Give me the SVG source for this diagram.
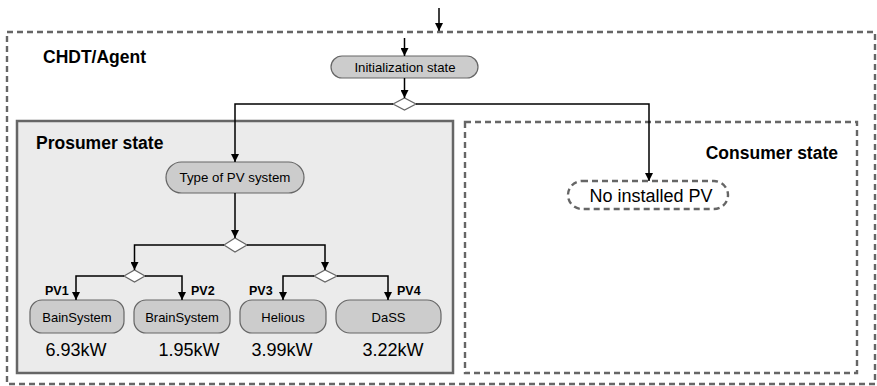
<svg xmlns="http://www.w3.org/2000/svg" width="877" height="386" viewBox="0 0 877 386">
<style>
.dash{fill:none;stroke:#666;stroke-width:2.4;stroke-dasharray:6 4}
.pill{fill:#cccccc;stroke:#666;stroke-width:1.2}
.ln{fill:none;stroke:#000;stroke-width:1.5}
.dia{fill:#fff;stroke:#666;stroke-width:1.2}
.t{font-family:"Liberation Sans",Arial,sans-serif;fill:#000}
.b{font-weight:bold}
</style>
<defs>
<marker id="ah" viewBox="0 0 10 10" refX="10" refY="5" markerWidth="8" markerHeight="8" markerUnits="userSpaceOnUse" orient="auto">
<path d="M0,0 L10,5 L0,10 z" fill="#000"/>
</marker>
</defs>
<rect width="877" height="386" fill="#fff"/>
<g id="agent">
<rect class="dash" x="7" y="32" width="868" height="352"/>
<text class="t b" x="43" y="63" font-size="17.5">CHDT/Agent</text>
</g>
<g id="prosumer">
<rect x="17" y="121" width="436" height="252" fill="#ebebeb" stroke="#666" stroke-width="2.5"/>
<text class="t b" x="36" y="149" font-size="17.5">Prosumer state</text>
</g>
<g id="consumer">
<rect class="dash" x="465" y="122" width="392" height="251"/>
<text class="t b" x="838" y="159" font-size="17.5" text-anchor="end">Consumer state</text>
</g>
<g id="init">
<rect class="pill" x="331" y="56" width="147" height="22" rx="11"/>
<text class="t" x="405" y="72" font-size="13.2" text-anchor="middle">Initialization state</text>
</g>
<g id="d1"><polygon class="dia" points="393,104 404.5,98 416,104 404.5,110"/></g>
<g id="typepv">
<rect class="pill" x="166" y="162" width="138" height="31" rx="15.5"/>
<text class="t" x="235" y="182" font-size="13.3" text-anchor="middle">Type of PV system</text>
</g>
<g id="d2"><polygon class="dia" points="224,245 235,238 247,245 235,252"/></g>
<g id="d3"><polygon class="dia" points="124,276 134.5,270 145,276 134.5,282"/></g>
<g id="d4"><polygon class="dia" points="314,276 325,270 337,276 325,282"/></g>
<g id="pv1">
<rect class="pill" x="30" y="300" width="94" height="33" rx="12"/>
<text class="t" x="77" y="322" font-size="13" text-anchor="middle">BainSystem</text>
<text class="t b" x="45" y="295" font-size="12.5">PV1</text>
<text class="t" x="76" y="356" font-size="18" text-anchor="middle">6.93kW</text>
</g>
<g id="pv2">
<rect class="pill" x="134" y="300" width="96" height="33" rx="12"/>
<text class="t" x="182" y="322" font-size="13" text-anchor="middle">BrainSystem</text>
<text class="t b" x="191" y="295" font-size="12.5">PV2</text>
<text class="t" x="189" y="356" font-size="18" text-anchor="middle">1.95kW</text>
</g>
<g id="pv3">
<rect class="pill" x="240" y="300" width="86" height="33" rx="12"/>
<text class="t" x="283" y="322" font-size="13" text-anchor="middle">Helious</text>
<text class="t b" x="249" y="295" font-size="12.5">PV3</text>
<text class="t" x="282" y="356" font-size="18" text-anchor="middle">3.99kW</text>
</g>
<g id="pv4">
<rect class="pill" x="336" y="300" width="105" height="33" rx="14"/>
<text class="t" x="388.5" y="322" font-size="13" text-anchor="middle">DaSS</text>
<text class="t b" x="397" y="295" font-size="12.5">PV4</text>
<text class="t" x="393" y="356" font-size="18" text-anchor="middle">3.22kW</text>
</g>
<g id="nopv">
<rect class="dash" x="568" y="181" width="160" height="28" rx="14" stroke-width="2"/>
<text class="t" x="651" y="202" font-size="18" text-anchor="middle">No installed PV</text>
</g>
<g id="connectors">
<path class="ln" d="M439,8 V31" marker-end="url(#ah)"/>
<path class="ln" d="M404.5,38 V56" marker-end="url(#ah)"/>
<path class="ln" d="M404.5,78 V98" marker-end="url(#ah)"/>
<path class="ln" d="M393,104 H235 V162" marker-end="url(#ah)"/>
<path class="ln" d="M416,104 H649 V181" marker-end="url(#ah)"/>
<path class="ln" d="M235,193 V238" marker-end="url(#ah)"/>
<path class="ln" d="M224,245 H134.5 V270" marker-end="url(#ah)"/>
<path class="ln" d="M247,245 H325 V270" marker-end="url(#ah)"/>
<path class="ln" d="M124,276 H76 V300" marker-end="url(#ah)"/>
<path class="ln" d="M145,276 H182 V300" marker-end="url(#ah)"/>
<path class="ln" d="M314,276 H283 V300" marker-end="url(#ah)"/>
<path class="ln" d="M337,276 H388 V300" marker-end="url(#ah)"/>
</g>
</svg>
